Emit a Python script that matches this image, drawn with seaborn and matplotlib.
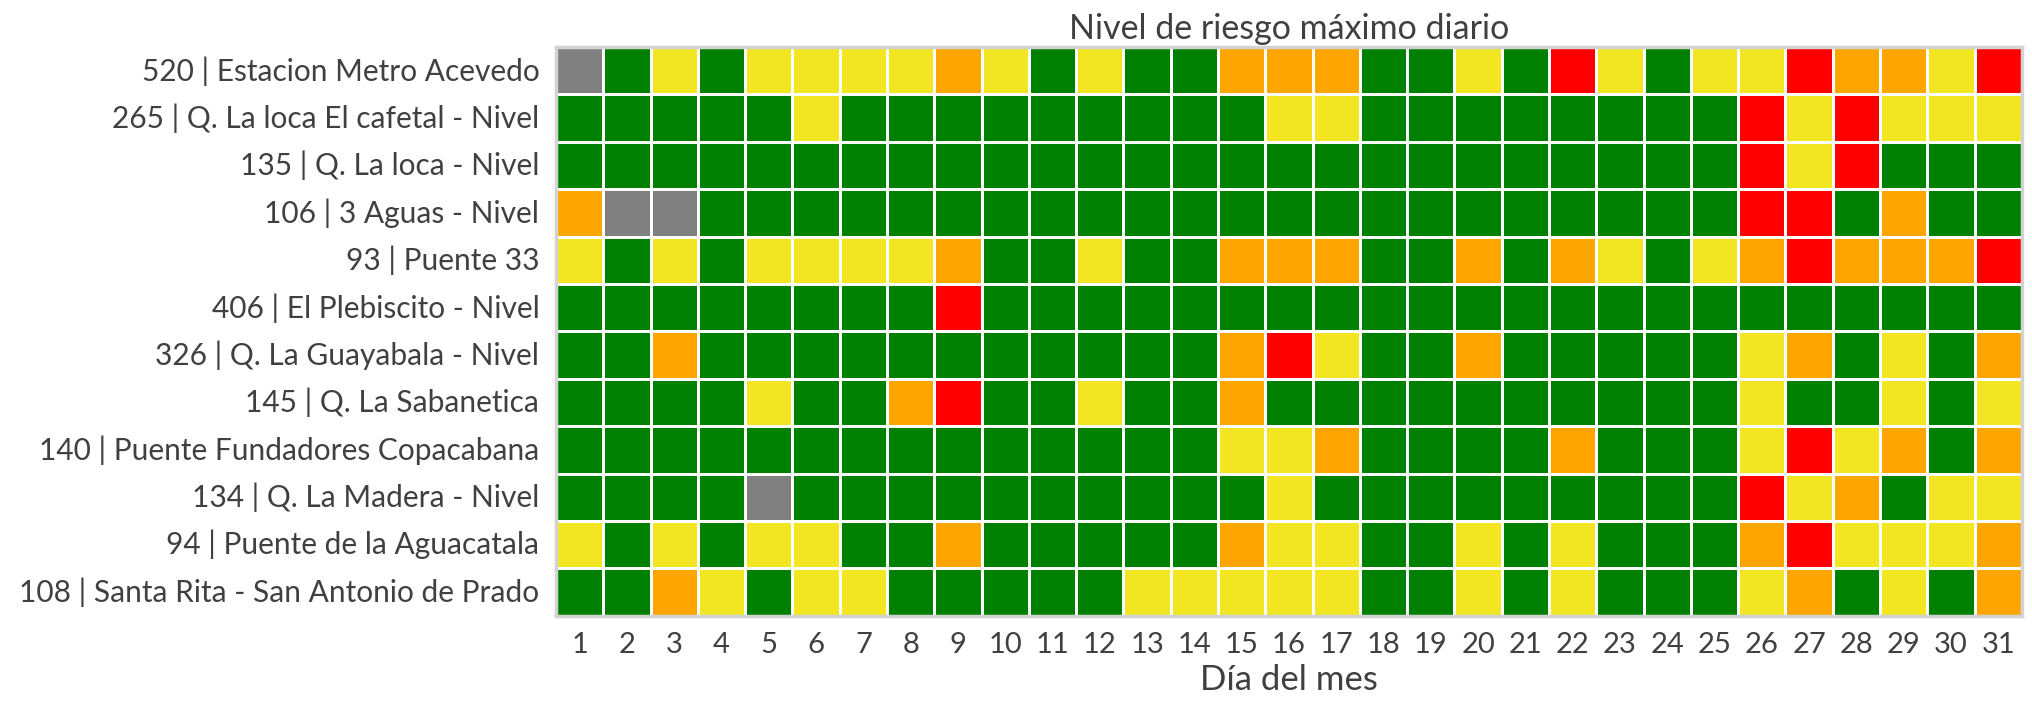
import numpy as np
import pandas as pd
import matplotlib
matplotlib.use("Agg")
import matplotlib.pyplot as plt
from matplotlib.colors import ListedColormap
import seaborn as sns

# Stations (rows, top to bottom)
estaciones = [
    "520 | Estacion Metro Acevedo",
    "265 | Q. La loca El cafetal - Nivel",
    "135 | Q. La loca - Nivel",
    "106 | 3 Aguas - Nivel",
    "93 | Puente 33",
    "406 | El Plebiscito - Nivel",
    "326 | Q. La Guayabala - Nivel",
    "145 | Q. La Sabanetica",
    "140 | Puente Fundadores Copacabana",
    "134 | Q. La Madera - Nivel",
    "94 | Puente de la Aguacatala",
    "108 | Santa Rita - San Antonio de Prado",
]
dias = list(range(1, 32))

# 0 = sin dato, 1 = verde, 2 = amarillo, 3 = naranja, 4 = rojo
niveles = [
    [0, 1, 2, 1, 2, 2, 2, 2, 3, 2, 1, 2, 1, 1, 3, 3, 3, 1, 1, 2, 1, 4, 2, 1, 2, 2, 4, 3, 3, 2, 4],
    [1, 1, 1, 1, 1, 2, 1, 1, 1, 1, 1, 1, 1, 1, 1, 2, 2, 1, 1, 1, 1, 1, 1, 1, 1, 4, 2, 4, 2, 2, 2],
    [1, 1, 1, 1, 1, 1, 1, 1, 1, 1, 1, 1, 1, 1, 1, 1, 1, 1, 1, 1, 1, 1, 1, 1, 1, 4, 2, 4, 1, 1, 1],
    [3, 0, 0, 1, 1, 1, 1, 1, 1, 1, 1, 1, 1, 1, 1, 1, 1, 1, 1, 1, 1, 1, 1, 1, 1, 4, 4, 1, 3, 1, 1],
    [2, 1, 2, 1, 2, 2, 2, 2, 3, 1, 1, 2, 1, 1, 3, 3, 3, 1, 1, 3, 1, 3, 2, 1, 2, 3, 4, 3, 3, 3, 4],
    [1, 1, 1, 1, 1, 1, 1, 1, 4, 1, 1, 1, 1, 1, 1, 1, 1, 1, 1, 1, 1, 1, 1, 1, 1, 1, 1, 1, 1, 1, 1],
    [1, 1, 3, 1, 1, 1, 1, 1, 1, 1, 1, 1, 1, 1, 3, 4, 2, 1, 1, 3, 1, 1, 1, 1, 1, 2, 3, 1, 2, 1, 3],
    [1, 1, 1, 1, 2, 1, 1, 3, 4, 1, 1, 2, 1, 1, 3, 1, 1, 1, 1, 1, 1, 1, 1, 1, 1, 2, 1, 1, 2, 1, 2],
    [1, 1, 1, 1, 1, 1, 1, 1, 1, 1, 1, 1, 1, 1, 2, 2, 3, 1, 1, 1, 1, 3, 1, 1, 1, 2, 4, 2, 3, 1, 3],
    [1, 1, 1, 1, 0, 1, 1, 1, 1, 1, 1, 1, 1, 1, 1, 2, 1, 1, 1, 1, 1, 1, 1, 1, 1, 4, 2, 3, 1, 2, 2],
    [2, 1, 2, 1, 2, 2, 1, 1, 3, 1, 1, 1, 1, 1, 3, 2, 2, 1, 1, 2, 1, 2, 1, 1, 1, 3, 4, 2, 2, 2, 3],
    [1, 1, 3, 2, 1, 2, 2, 1, 1, 1, 1, 1, 2, 2, 2, 2, 2, 1, 1, 2, 1, 2, 1, 1, 1, 2, 3, 1, 2, 1, 3],
]
colores = ["#808080", "#008000", "#F2E622", "#FFA500", "#FF0000"]

df = pd.DataFrame(niveles, index=estaciones, columns=dias)

sns.set_style("white")
plt.rcParams["font.family"] = ["Lato", "DejaVu Sans"]
texto = "#404040"

fig = plt.figure(figsize=(20.32, 7.03), dpi=100)
ax = fig.add_axes([0.2736, 0.124, 0.7214, 0.809])

sns.heatmap(df, ax=ax, cmap=ListedColormap(colores), vmin=-0.5, vmax=4.5,
            cbar=False, linewidths=2, linecolor="white")

for s in ax.spines.values():
    s.set_visible(True)
    s.set_color("#d3d3d3")
    s.set_linewidth(2.5)

ax.set_title("Nivel de riesgo máximo diario", fontsize=24.5, pad=6, color=texto)
ax.set_xlabel("Día del mes", fontsize=25, labelpad=4, color=texto)
ax.set_ylabel("")
ax.tick_params(axis="both", length=0, labelcolor=texto)
ax.tick_params(axis="x", pad=12, labelsize=21)
ax.tick_params(axis="y", pad=12, labelsize=21.5)
plt.setp(ax.get_yticklabels(), rotation=0)
plt.setp(ax.get_xticklabels(), rotation=0)

fig.savefig("out.png", dpi=100)
